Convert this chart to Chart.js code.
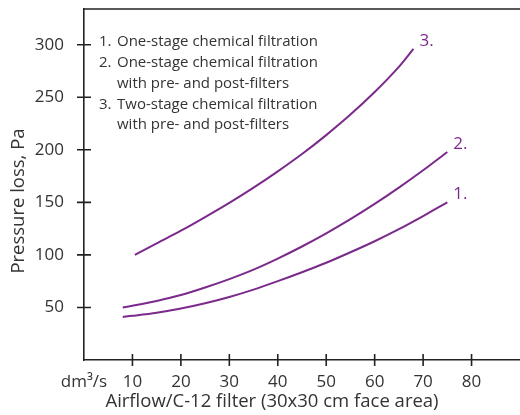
<!DOCTYPE html>
<html>
<head>
<meta charset="utf-8">
<script src="https://cdn.jsdelivr.net/npm/chart.js@4/dist/chart.umd.min.js"></script>
<style>
  html, body { margin:0; padding:0; background:#fff; }
  #wrap { width:520px; height:415px; position:relative; }
</style>
</head>
<body>
<div id="wrap"><canvas id="ch"></canvas></div>
<script>
// ---- datos
const flow1 = [8, 10, 15, 20, 25, 30, 35, 40, 45, 50, 55, 60, 65, 70, 75];
const loss1 = [41, 42, 45, 49, 54, 60, 67, 75, 83.5, 92.5, 102.5, 113, 124.5, 137, 150];
const flow2 = [8, 10, 15, 20, 25, 30, 35, 40, 45, 50, 55, 60, 65, 70, 75];
const loss2 = [50, 51.6, 56.2, 61.8, 69, 77, 86, 96.5, 108, 120.5, 134, 148.5, 164, 180.5, 198];
const flow3 = [10.5, 15, 20, 25, 30, 35, 40, 45, 50, 55, 60, 65, 68];
const loss3 = [100, 111, 123, 136, 149.5, 164, 179.5, 196, 214, 233.5, 255, 279, 296];

const seriesTags = ['1.', '2.', '3.'];
const legendLines = [
  ['1.', 'One-stage chemical filtration'],
  ['2.', 'One-stage chemical filtration'],
  ['',   'with pre- and post-filters'],
  ['3.', 'Two-stage chemical filtration'],
  ['',   'with pre- and post-filters'],
];
const xTicks = [10, 20, 30, 40, 50, 60, 70, 80];
const yTicks = [50, 100, 150, 200, 250, 300];
const xUnit = 'dm³/s';
const xTitle = 'Airflow/C-12 filter (30x30 cm face area)';
const yTitle = 'Pressure loss, Pa';

const PURPLE = '#7b2a8b';
const INK = '#222';
const TXT = '#333';
const FONT = '"Open Sans", sans-serif';

const pts = (xs, ys) => xs.map((x, i) => ({ x, y: ys[i] }));

// marcas que cruzan los ejes, marco superior, leyenda y títulos
const decor = {
  id: 'decor',
  afterDraw(chart) {
    const { ctx, chartArea: a, scales: { x, y } } = chart;
    ctx.save();
    ctx.strokeStyle = INK;
    ctx.lineWidth = 1.6;
    ctx.beginPath();
    ctx.moveTo(a.left, a.top); ctx.lineTo(a.right, a.top);
    yTicks.forEach(v => { const p = y.getPixelForValue(v); ctx.moveTo(a.left - 7, p); ctx.lineTo(a.left + 7, p); });
    xTicks.forEach(v => { const p = x.getPixelForValue(v); ctx.moveTo(p, a.bottom - 6); ctx.lineTo(p, a.bottom + 6); });
    ctx.stroke();

    // leyenda
    ctx.fillStyle = TXT;
    ctx.font = '15px ' + FONT;
    ctx.textBaseline = 'middle';
    legendLines.forEach((ln, i) => {
      const yy = 42 + i * 20.8;
      ctx.fillText(ln[0], 99, yy);
      ctx.fillText(ln[1], 117, yy);
    });

    // etiquetas al final de cada curva
    ctx.fillStyle = PURPLE;
    ctx.font = '17px ' + FONT;
    chart.data.datasets.forEach((ds, i) => {
      const last = ds.data[ds.data.length - 1];
      ctx.fillText(seriesTags[i], x.getPixelForValue(last.x) + 6, y.getPixelForValue(last.y) - 8);
    });

    // títulos de ejes
    ctx.fillStyle = TXT;
    ctx.font = '18.5px ' + FONT;
    ctx.textAlign = 'center';
    ctx.textBaseline = 'middle';
    ctx.fillText(xTitle, 272, 402);
    ctx.translate(19, 201);
    ctx.rotate(-Math.PI / 2);
    ctx.fillText(yTitle, 0, 0);
    ctx.restore();
  }
};

const lineStyle = { borderColor: PURPLE, borderWidth: 2, pointRadius: 0, tension: 0.3, fill: false };

new Chart(document.getElementById('ch'), {
  type: 'line',
  data: {
    datasets: [
      { label: seriesTags[0], data: pts(flow1, loss1), ...lineStyle },
      { label: seriesTags[1], data: pts(flow2, loss2), ...lineStyle },
      { label: seriesTags[2], data: pts(flow3, loss3), ...lineStyle },
    ]
  },
  options: {
    responsive: true, maintainAspectRatio: false, animation: false,
    layout: { padding: { top: 9, right: 0, left: 0, bottom: 0 } },
    plugins: { legend: { display: false }, tooltip: { enabled: false } },
    scales: {
      x: {
        type: 'linear', min: 0, max: 90,
        grid: { display: false },
        border: { color: INK, width: 1.6 },
        ticks: {
          stepSize: 10, padding: 4, color: TXT, font: { family: FONT, size: 17 },
          maxRotation: 0, autoSkip: false,
          callback: v => v === 0 ? xUnit : (xTicks.includes(v) ? String(v) : '')
        },
        afterFit: s => { s.height = 55; s.paddingLeft = 0; s.paddingRight = 0; }
      },
      y: {
        min: 0, max: 334,
        grid: { display: false },
        border: { color: INK, width: 1.6 },
        ticks: {
          stepSize: 50, padding: 12, color: TXT, font: { family: FONT, size: 17 },
          autoSkip: false,
          callback: v => yTicks.includes(v) ? String(v) : ''
        },
        afterFit: s => { s.width = 84; s.paddingTop = 0; s.paddingBottom = 0; }
      }
    }
  },
  plugins: [decor]
});
</script>
</body>
</html>
